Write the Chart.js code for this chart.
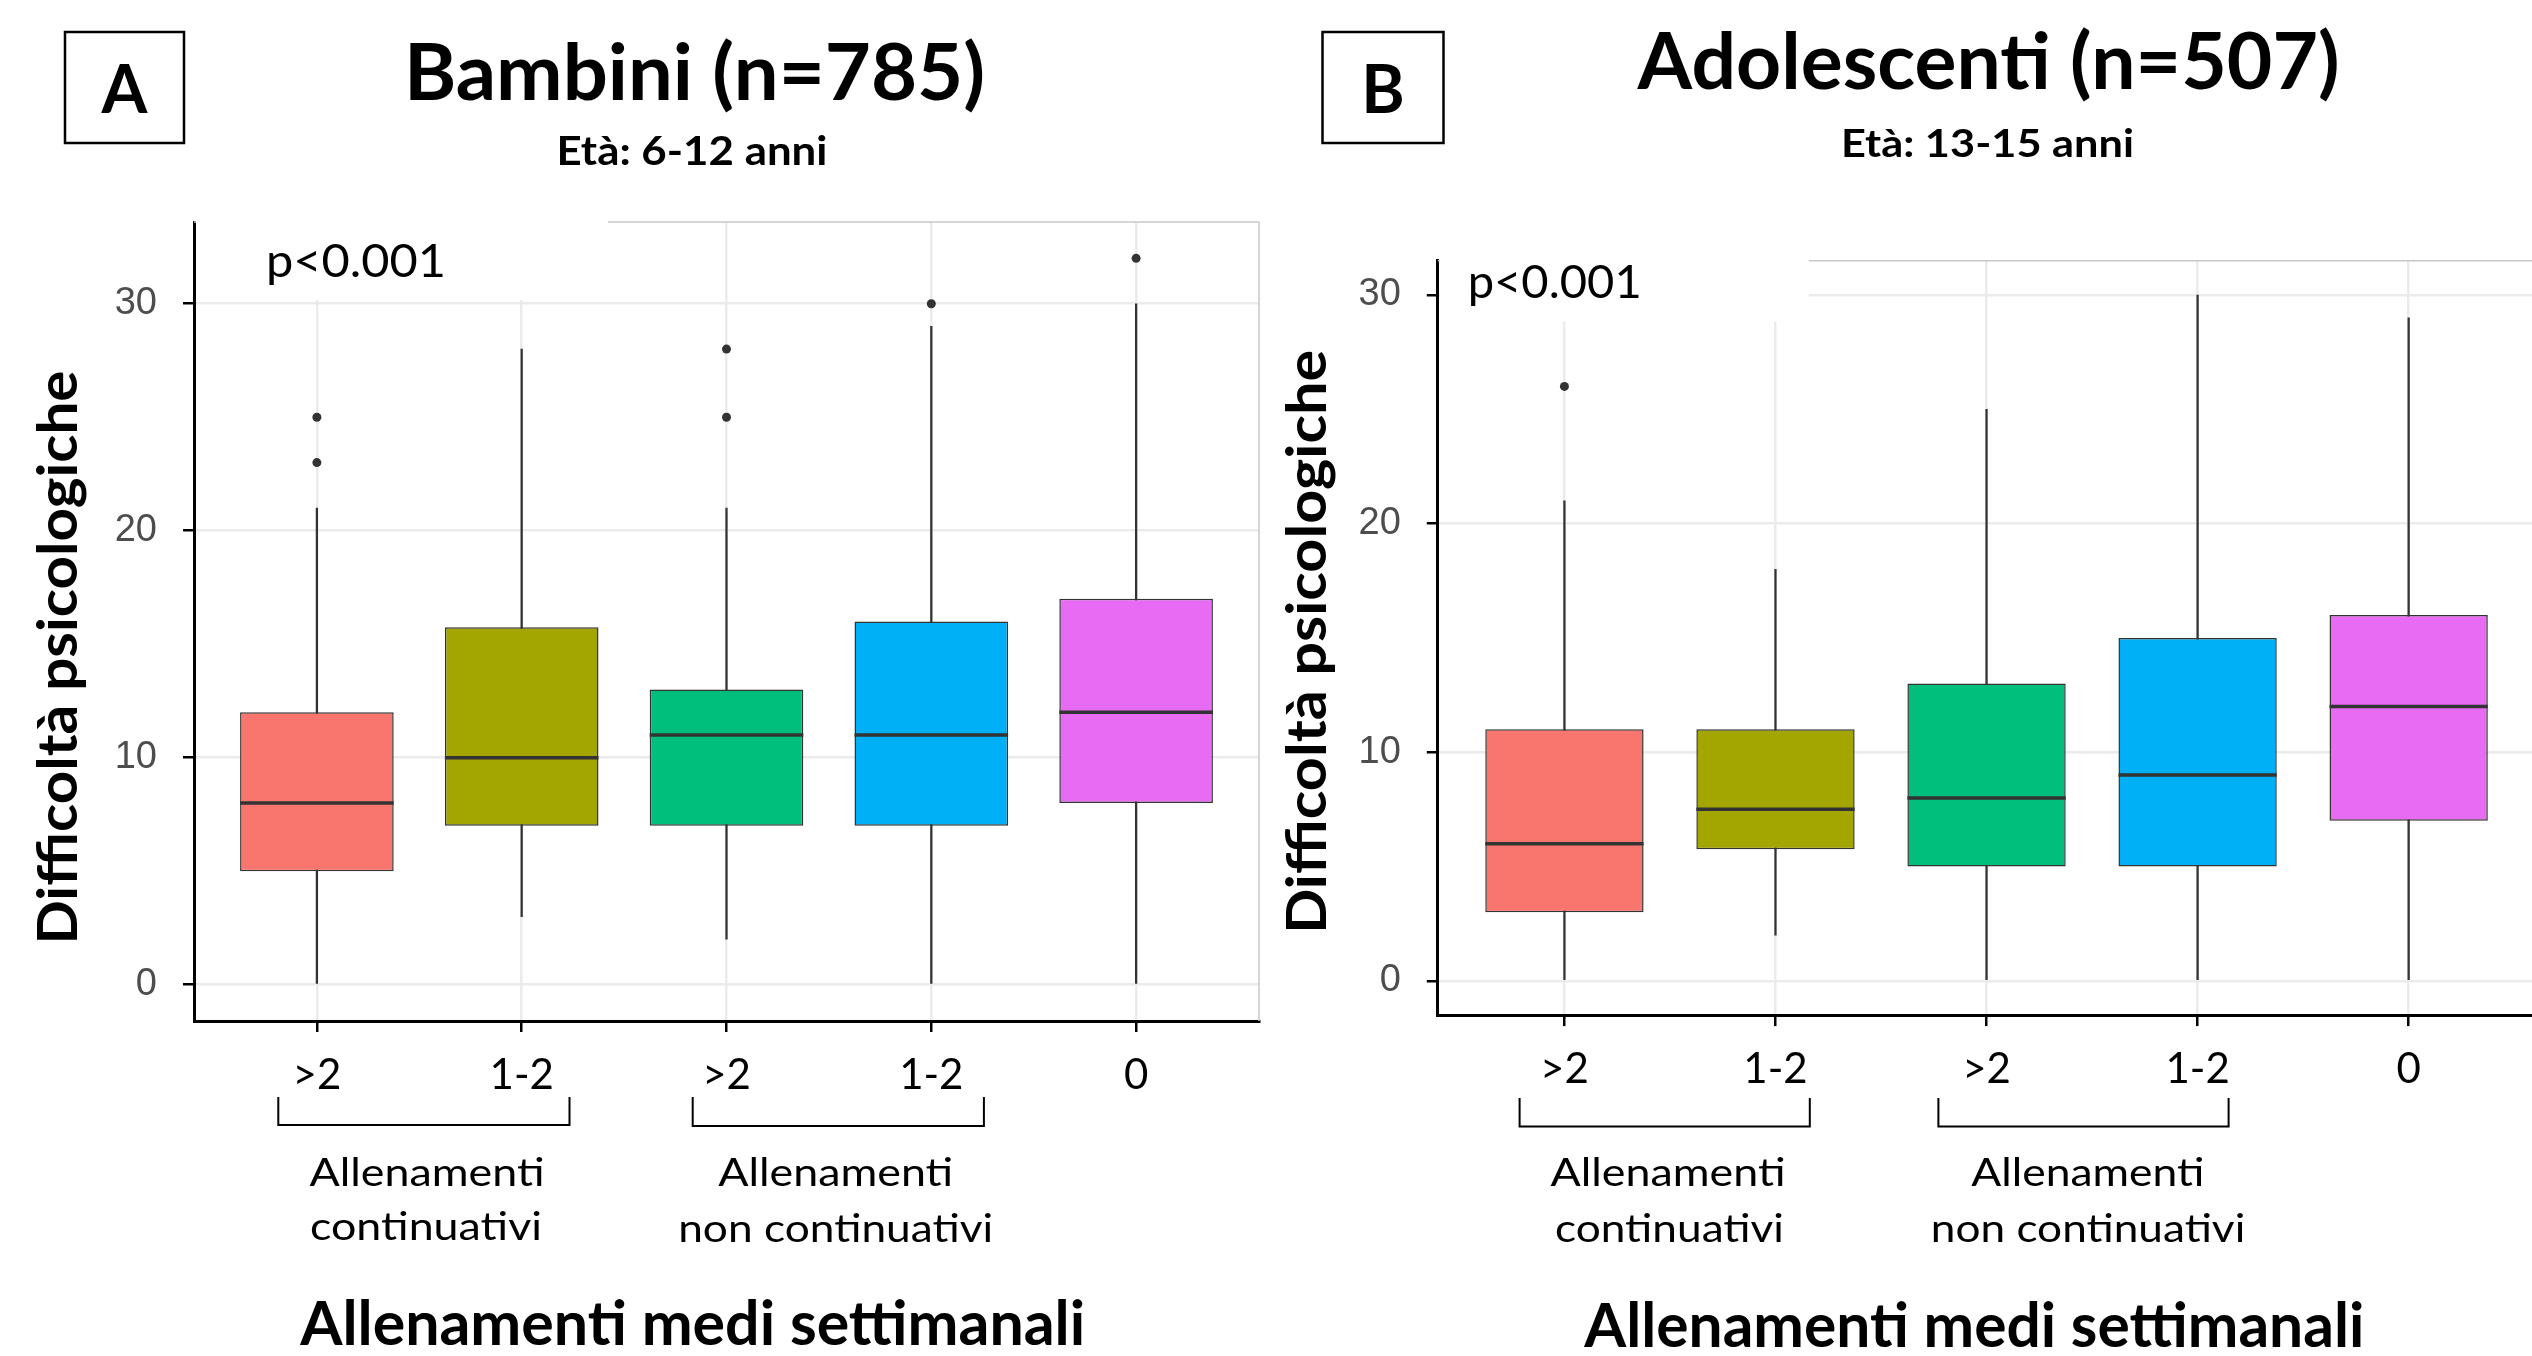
<!DOCTYPE html>
<html>
<head>
<meta charset="utf-8">
<title>Difficoltà psicologiche e allenamenti</title>
<script src="https://cdn.jsdelivr.net/npm/chart.js@4.4.1/dist/chart.umd.min.js"></script>
<style>
    html, body { margin: 0; padding: 0; background: #fff; overflow: hidden; }
    #page { position: relative; width: 2532px; height: 1356px; overflow: hidden; background: #fff; }
    canvas { position: absolute; top: 0; }
    #chartA { left: 0; }
    #chartB { left: 1266px; }
    #overlay { position: absolute; left: 0; top: 0; }
    #overlay text { font-family: Lato, "Open Sans", sans-serif; fill: #000; }
    #overlay .b { font-weight: 700; }
</style>
</head>
<body>
<div id="page">
    <canvas id="chartA" width="1266" height="1356"></canvas>
    <canvas id="chartB" width="1280" height="1356"></canvas>

    <svg id="overlay" width="2532" height="1356">
        <!-- panel letters -->
        <rect x="65" y="32" width="119" height="111" fill="none" stroke="#000" stroke-width="2.5"/>
        <text class="b" x="124.5" y="112.7" font-size="66" text-anchor="middle">A</text>
        <rect x="1322.5" y="32" width="121" height="111" fill="none" stroke="#000" stroke-width="2.5"/>
        <text class="b" x="1383" y="113" font-size="66" text-anchor="middle">B</text>

        <!-- titles -->
        <text class="b" x="694.5" y="100" font-size="78" text-anchor="middle" textLength="581" lengthAdjust="spacingAndGlyphs">Bambini (n=785)</text>
        <text class="b" x="692" y="165" font-size="40" text-anchor="middle" textLength="271" lengthAdjust="spacingAndGlyphs">Età: 6-12 anni</text>
        <text class="b" x="1988.6" y="89.3" font-size="79" text-anchor="middle" textLength="702" lengthAdjust="spacingAndGlyphs">Adolescenti (n=507)</text>
        <text class="b" x="1987.5" y="157" font-size="39" text-anchor="middle" textLength="293" lengthAdjust="spacingAndGlyphs">Età: 13-15 anni</text>

        <!-- y axis titles -->
        <text class="b" transform="translate(76.7,657.5) rotate(-90)" font-size="55" text-anchor="middle" textLength="574" lengthAdjust="spacingAndGlyphs">Difficoltà psicologiche</text>
        <text class="b" transform="translate(1326,641.8) rotate(-90)" font-size="55" text-anchor="middle" textLength="584" lengthAdjust="spacingAndGlyphs">Difficoltà psicologiche</text>

        <!-- p values -->
        <text x="356" y="277" font-size="46" text-anchor="middle" textLength="180" lengthAdjust="spacingAndGlyphs">p&lt;0.001</text>
        <text x="1554.7" y="298" font-size="46" text-anchor="middle" textLength="174" lengthAdjust="spacingAndGlyphs">p&lt;0.001</text>

        <!-- group brackets -->
        <g fill="none" stroke="#000" stroke-width="2">
            <path d="M278.3,1097 L278.3,1125 L569.5,1125 L569.5,1097"/>
            <path d="M692.7,1097 L692.7,1126 L983.9,1126 L983.9,1097"/>
            <path d="M1519.6,1098 L1519.6,1126.5 L1809.8,1126.5 L1809.8,1098"/>
            <path d="M1938.4,1098 L1938.4,1126.5 L2228.6,1126.5 L2228.6,1098"/>
        </g>

        <!-- group labels -->
        <text x="427" y="1186" font-size="38" text-anchor="middle" textLength="235" lengthAdjust="spacingAndGlyphs">Allenamenti</text>
        <text x="426" y="1240" font-size="38" text-anchor="middle" textLength="232" lengthAdjust="spacingAndGlyphs">continuativi</text>
        <text x="835.7" y="1186" font-size="38" text-anchor="middle" textLength="235" lengthAdjust="spacingAndGlyphs">Allenamenti</text>
        <text x="835.7" y="1242" font-size="38" text-anchor="middle" textLength="315" lengthAdjust="spacingAndGlyphs">non continuativi</text>
        <text x="1668" y="1186" font-size="38" text-anchor="middle" textLength="235" lengthAdjust="spacingAndGlyphs">Allenamenti</text>
        <text x="1669.5" y="1242" font-size="38" text-anchor="middle" textLength="229" lengthAdjust="spacingAndGlyphs">continuativi</text>
        <text x="2087.8" y="1186" font-size="38" text-anchor="middle" textLength="233" lengthAdjust="spacingAndGlyphs">Allenamenti</text>
        <text x="2088" y="1242" font-size="38" text-anchor="middle" textLength="314.5" lengthAdjust="spacingAndGlyphs">non continuativi</text>

        <!-- x axis titles -->
        <text class="b" x="692.7" y="1345" font-size="61" text-anchor="middle" textLength="785" lengthAdjust="spacingAndGlyphs">Allenamenti medi settimanali</text>
        <text class="b" x="1974.3" y="1346.7" font-size="61" text-anchor="middle" textLength="780" lengthAdjust="spacingAndGlyphs">Allenamenti medi settimanali</text>
    </svg>
</div>

<script>
    // ------------------------------------------------------- //
    // Data
    // ------------------------------------------------------ //

    var categories = ['>2', '1-2', '>2', '1-2', '0'];
    var boxColors = ['#F8766D', '#A3A500', '#00BF7D', '#00B0F6', '#E76BF3'];
    var yTicks = [0, 10, 20, 30];

    // Bambini (n=785)
    var lowA = [0, 3, 2, 0, 0];
    var q1A = [5, 7, 7, 7, 8];
    var medA = [8, 10, 11, 11, 12];
    var q3A = [12, 15.75, 13, 16, 17];
    var highA = [21, 28, 21, 29, 30];
    var outGroupA = [1, 1, 3, 3, 4, 5];
    var outValueA = [23, 25, 25, 28, 30, 32];

    // Adolescenti (n=507)
    var lowB = [0, 2, 0, 0, 0];
    var q1B = [3, 5.75, 5, 5, 7];
    var medB = [6, 7.5, 8, 9, 12];
    var q3B = [11, 11, 13, 15, 16];
    var highB = [21, 18, 25, 30, 29];
    var outGroupB = [1];
    var outValueB = [26];

    var BOX_WIDTH = 0.75;

    // ------------------------------------------------------- //
    // Boxplot datasets (whisker, box, median, outliers)
    // ------------------------------------------------------ //

    function halfBox(ctx) {
        var s = ctx.chart.scales.x;
        return Math.abs(s.getPixelForValue(1 + BOX_WIDTH / 2) - s.getPixelForValue(1));
    }

    function boxDatasets(low, q1, med, q3, high, outGroup, outValue) {
        var whiskers = [], boxes = [], medians = [], outliers = [];
        for (var i = 0; i < categories.length; i++) {
            whiskers.push({ x: i + 1, y: [low[i], high[i]] });
            boxes.push({ x: i + 1, y: [q1[i], q3[i]] });
            medians.push({ x: i + 1, y: med[i] });
        }
        for (var j = 0; j < outGroup.length; j++) {
            outliers.push({ x: outGroup[j], y: outValue[j] });
        }
        return [
            { type: 'bar', data: whiskers, backgroundColor: '#333333', barThickness: 1.6, grouped: false, order: 3 },
            { type: 'bar', data: boxes, backgroundColor: boxColors, borderColor: '#333333', borderWidth: 1.5,
              borderSkipped: false, categoryPercentage: BOX_WIDTH, barPercentage: 1, grouped: false, order: 2 },
            { type: 'scatter', data: medians, pointStyle: 'line', radius: halfBox, borderColor: '#333333',
              borderWidth: 3.5, order: 1 },
            { type: 'scatter', data: outliers, pointStyle: 'circle', radius: 4.5, backgroundColor: '#333333',
              borderWidth: 0, order: 0 }
        ];
    }

    // light panel frame + white patch behind the p value
    var framePlugin = {
        id: 'frame',
        beforeDatasetsDraw: function (chart, args, opts) {
            var a = chart.chartArea, ctx = chart.ctx;
            ctx.save();
            ctx.strokeStyle = '#c8c8c8';
            ctx.lineWidth = 1.5;
            ctx.beginPath();
            ctx.moveTo(a.left, a.top);
            ctx.lineTo(a.right, a.top);
            ctx.lineTo(a.right, a.bottom);
            ctx.stroke();
            ctx.fillStyle = '#ffffff';
            ctx.fillRect(a.left + 2, a.top - 2, opts.labelW, opts.labelH + 2);
            ctx.restore();
        }
    };

    function makePanel(canvasId, datasets, p) {
        var grid = { color: '#ebebeb', lineWidth: 2.5, tickColor: '#000', tickWidth: 2.5, tickLength: 11, offset: false };
        return new Chart(document.getElementById(canvasId), {
            type: 'bar',
            data: { datasets: datasets },
            plugins: [framePlugin],
            options: {
                responsive: false,
                animation: false,
                devicePixelRatio: 1,
                events: [],
                layout: { padding: p.padding },
                plugins: {
                    legend: { display: false },
                    tooltip: { enabled: false },
                    frame: { labelW: p.labelW, labelH: p.labelH }
                },
                scales: {
                    x: {
                        type: 'linear',
                        bounds: 'data',
                        offset: false,
                        min: 0.4,
                        max: 5.6,
                        afterBuildTicks: function (s) {
                            s.ticks = categories.map(function (c, i) { return { value: i + 1 }; });
                        },
                        afterFit: function (s) { s.height = p.xHeight; },
                        grid: grid,
                        border: { color: '#000', width: 3 },
                        ticks: {
                            callback: function (v, i) { return categories[i]; },
                            font: { family: 'Lato', size: 42 },
                            color: '#000',
                            padding: 18,
                            autoSkip: false,
                            maxRotation: 0
                        }
                    },
                    y: {
                        bounds: 'data',
                        min: p.yMin,
                        max: p.yMax,
                        afterBuildTicks: function (s) {
                            s.ticks = yTicks.map(function (v) { return { value: v }; });
                        },
                        afterFit: function (s) { s.width = p.yWidth; },
                        grid: grid,
                        border: { color: '#000', width: 3 },
                        ticks: {
                            font: { family: '"Liberation Sans", Arial', size: 38 },
                            color: '#4d4d4d',
                            padding: 26
                        }
                    }
                }
            }
        });
    }

    makePanel('chartA', boxDatasets(lowA, q1A, medA, q3A, highA, outGroupA, outValueA), {
        padding: { top: 222, right: 7, left: 0, bottom: 0 },
        yWidth: 194, xHeight: 335,
        yMin: -1.6, yMax: 33.6,
        labelW: 412, labelH: 78
    });

    makePanel('chartB', boxDatasets(lowB, q1B, medB, q3B, highB, outGroupB, outValueB), {
        padding: { top: 260.7, right: 10.7, left: 0, bottom: 0 },
        yWidth: 171.8, xHeight: 340.9,
        yMin: -1.5, yMax: 31.5,
        labelW: 369, labelH: 61
    });
</script>
</body>
</html>
